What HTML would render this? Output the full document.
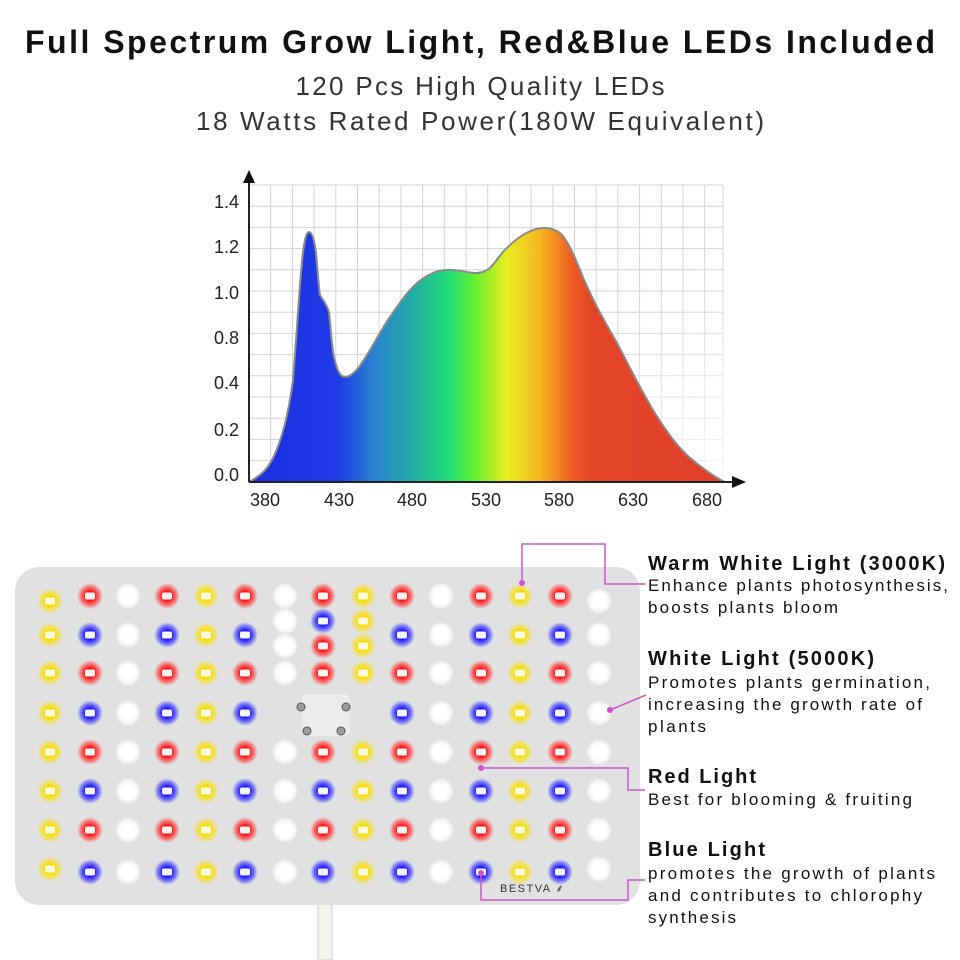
<!DOCTYPE html>
<html><head><meta charset="utf-8"><style>
html,body{margin:0;padding:0;background:#fff;width:960px;height:960px;overflow:hidden}
svg{display:block}
text{font-family:"Liberation Sans",sans-serif}
</style></head><body>
<svg width="960" height="960" viewBox="0 0 960 960" xmlns="http://www.w3.org/2000/svg">
<defs>
<linearGradient id="spec" x1="249" y1="0" x2="725" y2="0" gradientUnits="userSpaceOnUse">
<stop offset="0" stop-color="#1a2ee0"/>
<stop offset="0.19" stop-color="#1f3be6"/>
<stop offset="0.26" stop-color="#2a80d0"/>
<stop offset="0.34" stop-color="#22aaa8"/>
<stop offset="0.42" stop-color="#20dd78"/>
<stop offset="0.47" stop-color="#5cf030"/>
<stop offset="0.54" stop-color="#e8ee20"/>
<stop offset="0.61" stop-color="#f8b820"/>
<stop offset="0.68" stop-color="#ee5a22"/>
<stop offset="0.72" stop-color="#e44426"/>
<stop offset="1" stop-color="#e0402a"/>
</linearGradient>
<linearGradient id="gridfade" x1="0" y1="0" x2="1" y2="1">
<stop offset="0" stop-color="#fff" stop-opacity="0"/>
<stop offset="0.6" stop-color="#fff" stop-opacity="0"/>
<stop offset="1" stop-color="#fff" stop-opacity="0.8"/>
</linearGradient>
<radialGradient id="gR"><stop offset="0.35" stop-color="#ff1010"/><stop offset="0.7" stop-color="#ff3030" stop-opacity="0.6"/><stop offset="1" stop-color="#ff4040" stop-opacity="0"/></radialGradient>
<radialGradient id="gB"><stop offset="0.35" stop-color="#2010ff"/><stop offset="0.7" stop-color="#3030ff" stop-opacity="0.6"/><stop offset="1" stop-color="#4040ff" stop-opacity="0"/></radialGradient>
<radialGradient id="gY"><stop offset="0.35" stop-color="#f6dc00"/><stop offset="0.7" stop-color="#f8e020" stop-opacity="0.6"/><stop offset="1" stop-color="#f8e040" stop-opacity="0"/></radialGradient>
<radialGradient id="gW"><stop offset="0.5" stop-color="#ffffff"/><stop offset="0.8" stop-color="#ffffff" stop-opacity="0.7"/><stop offset="1" stop-color="#ffffff" stop-opacity="0"/></radialGradient>
<g id="R"><circle r="13" fill="url(#gR)"/><rect x="-5" y="-3.5" width="10" height="7" rx="2" fill="#fff4f4"/></g>
<g id="B"><circle r="13" fill="url(#gB)"/><rect x="-5" y="-3.5" width="10" height="7" rx="2" fill="#f4f4ff"/></g>
<g id="Y"><circle r="13" fill="url(#gY)"/><rect x="-5" y="-3.5" width="10" height="7" rx="2" fill="#fffbe0"/></g>
<g id="W"><circle r="13" fill="url(#gW)"/><rect x="-5" y="-3.5" width="10" height="7" rx="2" fill="#fff"/></g>
</defs>

<text x="480" y="53" text-anchor="middle" font-size="32" font-weight="bold" fill="#111" textLength="910" lengthAdjust="spacing">Full Spectrum Grow Light, Red&amp;Blue LEDs Included</text>
<text x="480" y="95" text-anchor="middle" font-size="26" fill="#333" textLength="369" lengthAdjust="spacing">120 Pcs High Quality LEDs</text>
<text x="480" y="130" text-anchor="middle" font-size="26" fill="#333" textLength="568" lengthAdjust="spacing">18 Watts Rated Power(180W Equivalent)</text>

<g stroke="#d4d4d4" stroke-width="1">
<path d="M270.7 185V482M292.4 185V482M314.1 185V482M335.8 185V482M357.5 185V482M379.2 185V482M400.9 185V482M422.6 185V482M444.3 185V482M466 185V482M487.7 185V482M509.4 185V482M531.1 185V482M552.8 185V482M574.5 185V482M596.2 185V482M617.9 185V482M639.6 185V482M661.3 185V482M683 185V482M704.7 185V482M723 185V482"/>
<path d="M249 185H723M249 206.2H723M249 227.4H723M249 248.6H723M249 269.8H723M249 291H723M249 312.2H723M249 333.4H723M249 354.6H723M249 375.8H723M249 397H723M249 418.2H723M249 439.4H723M249 460.6H723"/>
</g>
<rect x="249" y="180" width="480" height="305" fill="url(#gridfade)"/>

<path d="M249 482 C260 476 267 470 273 458 C283 438 289 410 293 380 C297 330 300 280 302 262 C304 242 306 232 309 232 C313 232 315 245 316 253 C318 275 319 290 320 295 C323 300 327 305 329 312 C331 330 332 350 334 357 C337 370 340 377 345 377 C350 377 355 372 359 367 C370 352 378 335 388 320 C398 305 407 292 417 283 C427 275 437 270 446 270 C458 269 467 273 475 273 C482 273 486 271 490 268 C496 262 500 254 508 247 C520 235 533 228 544 228 C552 228 558 231 562 235 C570 245 575 258 580 270 C592 300 605 322 617 343 C630 368 641 390 653 410 C665 430 677 446 689 457 C702 468 714 477 725 482 Z" fill="url(#spec)" stroke="#8a8a8a" stroke-width="2"/>

<line x1="249" y1="482" x2="735" y2="482" stroke="#222" stroke-width="2"/>
<path d="M746 482 L732 476 L732 488 Z" fill="#111"/>
<line x1="249" y1="482" x2="249" y2="178" stroke="#222" stroke-width="2"/>
<path d="M249 170 L243 183 L255 183 Z" fill="#111"/>

<g font-size="18" fill="#222" text-anchor="end">
<text x="239" y="208">1.4</text><text x="239" y="253">1.2</text><text x="239" y="299">1.0</text><text x="239" y="344">0.8</text><text x="239" y="389">0.4</text><text x="239" y="436">0.2</text><text x="239" y="481">0.0</text>
</g>
<g font-size="18" fill="#222" text-anchor="middle">
<text x="265" y="506">380</text><text x="339" y="506">430</text><text x="412" y="506">480</text><text x="486" y="506">530</text><text x="559" y="506">580</text><text x="633" y="506">630</text><text x="707" y="506">680</text>
</g>

<rect x="318" y="900" width="14" height="60" fill="#f4f4f0" stroke="#cfcfcf"/>
<rect x="15" y="567" width="625" height="338" rx="24" fill="#e1e1e1"/>
<rect x="302" y="694" width="48" height="42" rx="6" fill="#ececec"/>
<g fill="#9a9a9a" stroke="#555" stroke-width="1"><circle cx="301" cy="707" r="4"/><circle cx="346" cy="707" r="4"/><circle cx="307" cy="731" r="4"/><circle cx="341" cy="731" r="4"/></g>

<g>
<use href="#Y" x="50" y="601"/><use href="#R" x="90" y="596"/><use href="#W" x="128" y="596"/><use href="#R" x="167" y="596"/><use href="#Y" x="206" y="596"/><use href="#R" x="245" y="596"/><use href="#W" x="285" y="596"/><use href="#R" x="323" y="596"/><use href="#Y" x="363" y="596"/><use href="#R" x="402" y="596"/><use href="#W" x="441" y="596"/><use href="#R" x="481" y="596"/><use href="#Y" x="520" y="596"/><use href="#R" x="560" y="596"/><use href="#W" x="599" y="601"/>
<use href="#Y" x="50" y="635"/><use href="#B" x="90" y="635"/><use href="#W" x="128" y="635"/><use href="#B" x="167" y="635"/><use href="#Y" x="206" y="635"/><use href="#B" x="245" y="635"/><use href="#W" x="285" y="621"/><use href="#W" x="285" y="646"/><use href="#B" x="323" y="621"/><use href="#R" x="323" y="646"/><use href="#Y" x="363" y="621"/><use href="#Y" x="363" y="646"/><use href="#B" x="402" y="635"/><use href="#W" x="441" y="635"/><use href="#B" x="481" y="635"/><use href="#Y" x="520" y="635"/><use href="#B" x="560" y="635"/><use href="#W" x="599" y="635"/>
<use href="#Y" x="50" y="673"/><use href="#R" x="90" y="673"/><use href="#W" x="128" y="673"/><use href="#R" x="167" y="673"/><use href="#Y" x="206" y="673"/><use href="#R" x="245" y="673"/><use href="#W" x="285" y="673"/><use href="#R" x="323" y="673"/><use href="#Y" x="363" y="673"/><use href="#R" x="402" y="673"/><use href="#W" x="441" y="673"/><use href="#R" x="481" y="673"/><use href="#Y" x="520" y="673"/><use href="#R" x="560" y="673"/><use href="#W" x="599" y="673"/>
<use href="#Y" x="50" y="713"/><use href="#B" x="90" y="713"/><use href="#W" x="128" y="713"/><use href="#B" x="167" y="713"/><use href="#Y" x="206" y="713"/><use href="#B" x="245" y="713"/><use href="#B" x="402" y="713"/><use href="#W" x="441" y="713"/><use href="#B" x="481" y="713"/><use href="#Y" x="520" y="713"/><use href="#B" x="560" y="713"/><use href="#W" x="599" y="713"/>
<use href="#Y" x="50" y="752"/><use href="#R" x="90" y="752"/><use href="#W" x="128" y="752"/><use href="#R" x="167" y="752"/><use href="#Y" x="206" y="752"/><use href="#R" x="245" y="752"/><use href="#W" x="285" y="752"/><use href="#R" x="323" y="752"/><use href="#Y" x="363" y="752"/><use href="#R" x="402" y="752"/><use href="#W" x="441" y="752"/><use href="#R" x="481" y="752"/><use href="#Y" x="520" y="752"/><use href="#R" x="560" y="752"/><use href="#W" x="599" y="752"/>
<use href="#Y" x="50" y="791"/><use href="#B" x="90" y="791"/><use href="#W" x="128" y="791"/><use href="#B" x="167" y="791"/><use href="#Y" x="206" y="791"/><use href="#B" x="245" y="791"/><use href="#W" x="285" y="791"/><use href="#B" x="323" y="791"/><use href="#Y" x="363" y="791"/><use href="#B" x="402" y="791"/><use href="#W" x="441" y="791"/><use href="#B" x="481" y="791"/><use href="#Y" x="520" y="791"/><use href="#B" x="560" y="791"/><use href="#W" x="599" y="791"/>
<use href="#Y" x="50" y="830"/><use href="#R" x="90" y="830"/><use href="#W" x="128" y="830"/><use href="#R" x="167" y="830"/><use href="#Y" x="206" y="830"/><use href="#R" x="245" y="830"/><use href="#W" x="285" y="830"/><use href="#R" x="323" y="830"/><use href="#Y" x="363" y="830"/><use href="#R" x="402" y="830"/><use href="#W" x="441" y="830"/><use href="#R" x="481" y="830"/><use href="#Y" x="520" y="830"/><use href="#R" x="560" y="830"/><use href="#W" x="599" y="830"/>
<use href="#Y" x="50" y="869"/><use href="#B" x="90" y="872"/><use href="#W" x="128" y="872"/><use href="#B" x="167" y="872"/><use href="#Y" x="206" y="872"/><use href="#B" x="245" y="872"/><use href="#W" x="285" y="872"/><use href="#B" x="323" y="872"/><use href="#Y" x="363" y="872"/><use href="#B" x="402" y="872"/><use href="#W" x="441" y="872"/><use href="#B" x="481" y="872"/><use href="#Y" x="520" y="872"/><use href="#B" x="560" y="872"/><use href="#W" x="599" y="869"/>
</g>
<text x="500" y="892" font-size="11" fill="#333" letter-spacing="1.5">BESTVA ⸙</text>

<g stroke="#cc55cc" stroke-width="1.5" fill="none">
<path d="M522 583 V544 H605 V584 H646"/>
<path d="M610 710 L646 695"/>
<path d="M481 768 H628 V790 H645"/>
<path d="M481 873 V900 H628 V880 H645"/>
</g>
<g fill="#cc55cc"><circle cx="522" cy="583" r="3"/><circle cx="610" cy="710" r="3"/><circle cx="481" cy="768" r="3"/><circle cx="481" cy="873" r="3"/></g>

<g fill="#111">
<text x="648" y="570" font-size="20" font-weight="bold" textLength="297" lengthAdjust="spacing">Warm White Light (3000K)</text>
<text x="648" y="591" font-size="17" textLength="300" lengthAdjust="spacing">Enhance plants photosynthesis,</text>
<text x="648" y="613" font-size="17" textLength="190" lengthAdjust="spacing">boosts plants bloom</text>
<text x="648" y="665" font-size="20" font-weight="bold" textLength="226" lengthAdjust="spacing">White Light (5000K)</text>
<text x="648" y="688" font-size="17" textLength="282" lengthAdjust="spacing">Promotes plants germination,</text>
<text x="648" y="710" font-size="17" textLength="274" lengthAdjust="spacing">increasing the growth rate of</text>
<text x="648" y="732" font-size="17" textLength="58" lengthAdjust="spacing">plants</text>
<text x="648" y="783" font-size="20" font-weight="bold" textLength="108" lengthAdjust="spacing">Red Light</text>
<text x="648" y="805" font-size="17" textLength="264" lengthAdjust="spacing">Best for blooming &amp; fruiting</text>
<text x="648" y="856" font-size="20" font-weight="bold" textLength="117" lengthAdjust="spacing">Blue Light</text>
<text x="648" y="879" font-size="17" textLength="287" lengthAdjust="spacing">promotes the growth of plants</text>
<text x="648" y="901" font-size="17" textLength="274" lengthAdjust="spacing">and contributes to chlorophy</text>
<text x="648" y="923" font-size="17" textLength="88" lengthAdjust="spacing">synthesis</text>
</g>
</svg>
</body></html>
